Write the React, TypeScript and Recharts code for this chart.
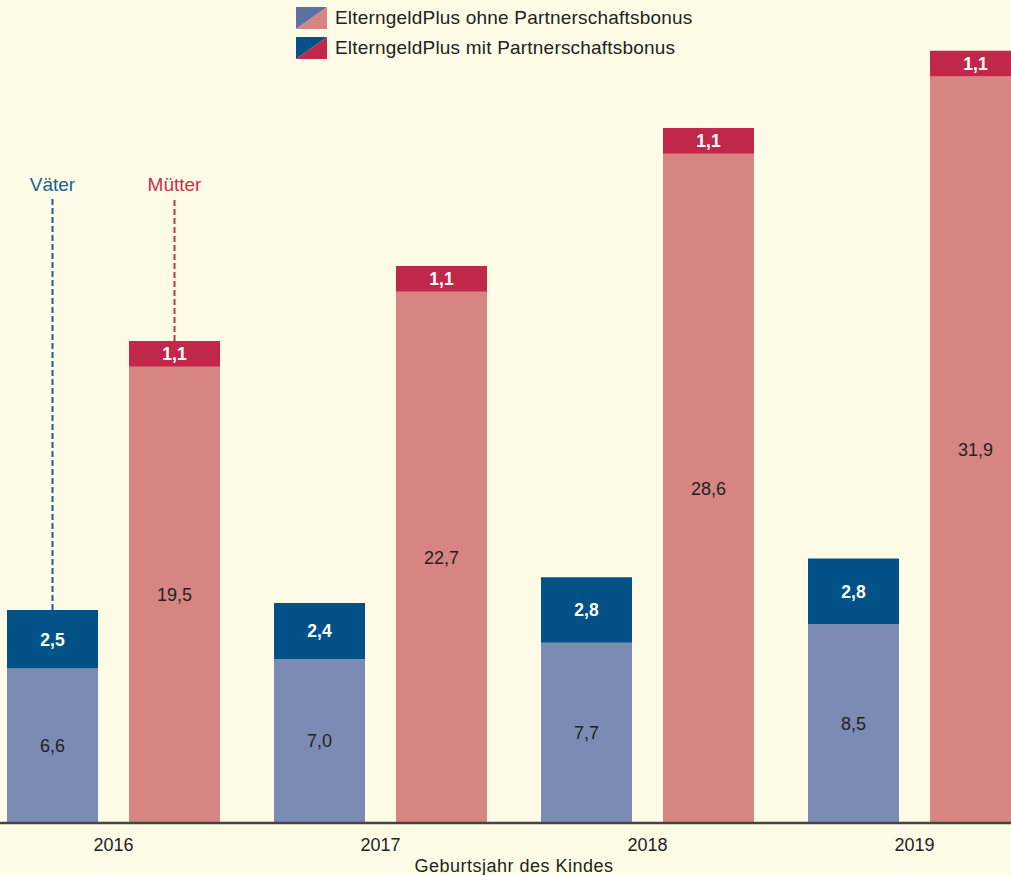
import React from 'react';
import { BarChart, Bar, XAxis, YAxis, LabelList, Label } from 'recharts';

const years = ['2016', '2017', '2018', '2019'];
const vaterOhne = [6.6, 7.0, 7.7, 8.5];
const vaterMit = [2.5, 2.4, 2.8, 2.8];
const mutterOhne = [19.5, 22.7, 28.6, 31.9];
const mutterMit = [1.1, 1.1, 1.1, 1.1];
const legendLabels = ['ElterngeldPlus ohne Partnerschaftsbonus', 'ElterngeldPlus mit Partnerschaftsbonus'];

const data = years.map((y, i) => ({
  year: y,
  vaterOhne: vaterOhne[i],
  vaterMit: vaterMit[i],
  mutterOhne: mutterOhne[i],
  mutterMit: mutterMit[i],
}));

const FONT = '"Liberation Sans", Arial, sans-serif';
const BG = '#FEFCE6';
const C_VO = '#7B8BB3';
const C_VM = '#025288';
const C_MO = '#D68583';
const C_MM = '#C12749';
const C_VTXT = '#1B5E95';
const C_MTXT = '#C8304F';

const fmt = (v: any) => Number(v).toFixed(1).replace('.', ',');

const makeAnno = (label: string, color: string) => (props: any) => {
  const { x, y, width, index } = props;
  if (index !== 0) return null;
  const cx = Number(x) + Number(width) / 2;
  return (
    <g>
      <line x1={cx} x2={cx} y1={Number(y)} y2={198} stroke={color} strokeWidth={2} strokeDasharray="6 3" />
      <text x={cx} y={191} textAnchor="middle" fill={color} fontSize={19} fontFamily={FONT}>
        {label}
      </text>
    </g>
  );
};

const YearTick = (props: any) => {
  const { x, y, payload } = props;
  return (
    <text x={x} y={Number(y) + 20} textAnchor="middle" fill="#222" fontSize={18} fontFamily={FONT}>
      {payload.value}
    </text>
  );
};

const Swatch = ({ a, b }: { a: string; b: string }) => (
  <svg width={31} height={22} style={{ display: 'block' }}>
    <polygon points="0,0 31,0 0,22" fill={a} />
    <polygon points="31,0 31,22 0,22" fill={b} />
  </svg>
);

export default function App() {
  return (
    <div
      style={{
        position: 'absolute',
        left: 0,
        top: 0,
        width: 1011,
        height: 875,
        overflow: 'hidden',
        background: BG,
        fontFamily: FONT,
      }}
    >
      <div style={{ position: 'absolute', left: -20, top: 0 }}>
        <BarChart
          width={1100}
          height={875}
          data={data}
          margin={{ top: 4, right: 32, bottom: 22, left: 0 }}
          barSize={91}
          barGap={31}
          barCategoryGap={27}
        >
          <YAxis hide domain={[0, 35]} />
          <XAxis
            dataKey="year"
            tickLine={false}
            axisLine={{ stroke: '#444', strokeWidth: 2.5 }}
            tick={<YearTick />}
            height={30}
          >
            <Label
              value="Geburtsjahr des Kindes"
              position="bottom"
              offset={6}
              fill="#222"
              fontSize={18}
              letterSpacing={0.5}
              fontFamily={FONT}
            />
          </XAxis>
          <Bar dataKey="vaterOhne" stackId="v" fill={C_VO} isAnimationActive={false}>
            <LabelList dataKey="vaterOhne" position="center" formatter={fmt} fill="#222" fontSize={18} fontFamily={FONT} />
          </Bar>
          <Bar dataKey="vaterMit" stackId="v" fill={C_VM} isAnimationActive={false}>
            <LabelList dataKey="vaterMit" position="center" formatter={fmt} fill="#fff" fontSize={17.5} fontWeight="bold" fontFamily={FONT} />
            <LabelList dataKey="vaterMit" content={makeAnno('Väter', C_VTXT)} />
          </Bar>
          <Bar dataKey="mutterOhne" stackId="m" fill={C_MO} isAnimationActive={false}>
            <LabelList dataKey="mutterOhne" position="center" formatter={fmt} fill="#222" fontSize={18} fontFamily={FONT} />
          </Bar>
          <Bar dataKey="mutterMit" stackId="m" fill={C_MM} isAnimationActive={false}>
            <LabelList dataKey="mutterMit" position="center" formatter={fmt} fill="#fff" fontSize={17.5} fontWeight="bold" fontFamily={FONT} />
            <LabelList dataKey="mutterMit" content={makeAnno('Mütter', C_MTXT)} />
          </Bar>
        </BarChart>
      </div>
      <div style={{ position: 'absolute', left: 296, top: 7 }}>
        <div style={{ display: 'flex', alignItems: 'center', height: 22 }}>
          <Swatch a="#5A72A6" b={C_MO} />
          <span style={{ marginLeft: 8, fontSize: 19, letterSpacing: 0.2, color: '#222', lineHeight: '22px' }}>{legendLabels[0]}</span>
        </div>
        <div style={{ display: 'flex', alignItems: 'center', height: 22, marginTop: 8 }}>
          <Swatch a={C_VM} b={C_MM} />
          <span style={{ marginLeft: 8, fontSize: 19, letterSpacing: 0.2, color: '#222', lineHeight: '22px' }}>{legendLabels[1]}</span>
        </div>
      </div>
    </div>
  );
}
